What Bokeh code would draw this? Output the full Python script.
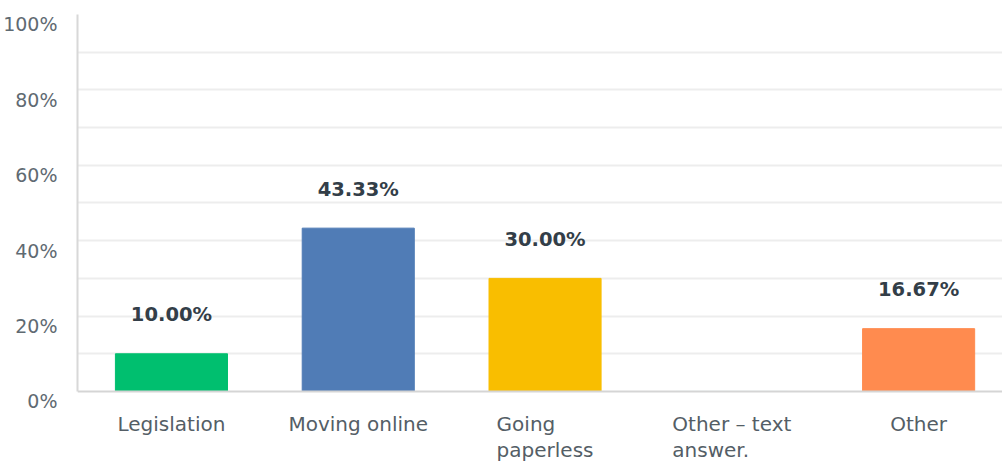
from bokeh.plotting import figure
from bokeh.models import Range1d, FixedTicker, ColumnDataSource, Span, LinearAxis
from bokeh.core.properties import value
from bokeh.embed import file_html
from bokeh.resources import INLINE

categories = ["Legislation", "Moving online", "Going\npaperless", "Other \u2013 text\nanswer.", "Other"]
values = [10.00, 43.33, 30.00, 0.0, 16.67]
colors = ["#00BF6F", "#507CB6", "#F9BE00", "#6BC8CD", "#FF8B4F"]
y_ticks = [0, 20, 40, 60, 80, 100]
y_grid = [10, 20, 30, 40, 50, 60, 70, 80, 90]

FONT = "DejaVu Sans"
Y0, Y1 = -19.1, 100
LABEL_SHIFT = 2.65  # tick labels sit ~10px below their gridline

idx = list(range(len(categories)))
src = ColumnDataSource(dict(x=idx, top=values, color=colors))
lab_idx = [i for i in idx if values[i] > 0]
lab_src = ColumnDataSource(dict(
    x=lab_idx,
    y=[values[i] for i in lab_idx],
    t=[f"{values[i]:.2f}%" for i in lab_idx],
))
cat_src = ColumnDataSource(dict(x=idx, y=[0] * len(idx), t=categories))

p = figure(width=1002, height=463, output_backend="svg", toolbar_location=None,
           x_range=Range1d(-0.503, 4.449), y_range=Range1d(Y0, Y1),
           min_border_left=76, min_border_right=0, min_border_top=14, min_border_bottom=0)
p.outline_line_color = None
p.background_fill_color = "white"
p.border_fill_color = "white"

p.ygrid.ticker = FixedTicker(ticks=y_grid)
p.ygrid.grid_line_color = "#EDEDED"
p.ygrid.grid_line_width = 2
p.xgrid.grid_line_color = None

p.vbar(x="x", top="top", width=0.6, color="color", source=src)
p.add_layout(Span(location=0, dimension="width", line_color="#D5D5D5", line_width=2))

p.text(x="x", y="y", text="t", source=lab_src, y_offset=-39,
       text_align="center", text_baseline="middle",
       text_font=value(FONT), text_font_size="19.5px", text_font_style="bold",
       text_color="#333E48")

# category labels under the baseline
p.text(x="x", y="y", text="t", source=cat_src, y_offset=21,
       anchor="top_center", text_align="left", text_baseline="top",
       text_line_height=1.05,
       text_font=value(FONT), text_font_size="20px",
       text_color="#545E66")

p.xaxis.visible = False
p.yaxis.visible = False

# y axis with labels slightly below their gridlines
p.extra_y_ranges = {"lab": Range1d(Y0 + LABEL_SHIFT, Y1 + LABEL_SHIFT)}
ya = LinearAxis(y_range_name="lab", ticker=FixedTicker(ticks=y_ticks),
                bounds=(LABEL_SHIFT, Y1 + LABEL_SHIFT))
ya.major_label_overrides = {t: f"{t}%" for t in y_ticks}
ya.major_tick_line_color = None
ya.minor_tick_line_color = None
ya.axis_line_color = "#D8D8D8"
ya.axis_line_width = 2
ya.major_label_standoff = 14
ya.major_label_text_font = FONT
ya.major_label_text_font_size = "19px"
ya.major_label_text_color = "#5F6A72"
p.add_layout(ya, "left")

open("out.html", "w").write(file_html(p, INLINE))
